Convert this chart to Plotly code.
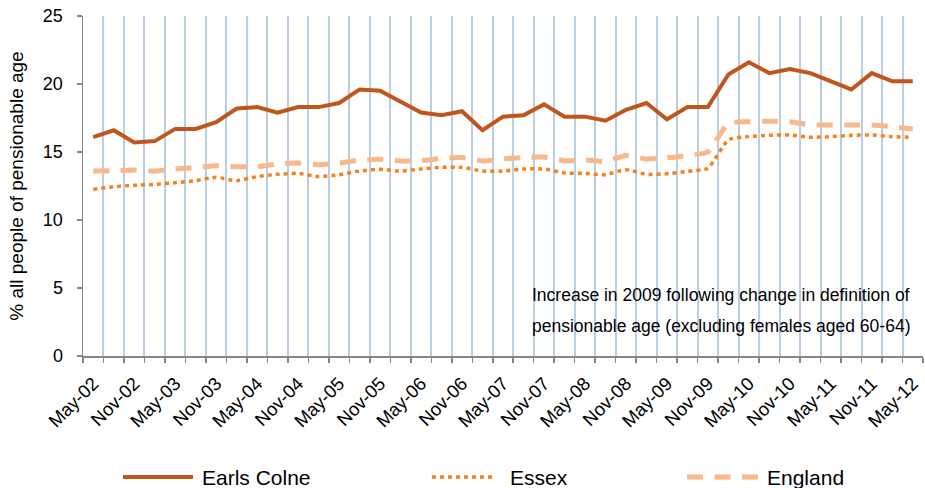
import plotly.graph_objects as go

categories = ["May-02", "Aug-02", "Nov-02", "Feb-03", "May-03", "Aug-03", "Nov-03", "Feb-04",
              "May-04", "Aug-04", "Nov-04", "Feb-05", "May-05", "Aug-05", "Nov-05", "Feb-06",
              "May-06", "Aug-06", "Nov-06", "Feb-07", "May-07", "Aug-07", "Nov-07", "Feb-08",
              "May-08", "Aug-08", "Nov-08", "Feb-09", "May-09", "Aug-09", "Nov-09", "Feb-10",
              "May-10", "Aug-10", "Nov-10", "Feb-11", "May-11", "Aug-11", "Nov-11", "Feb-12",
              "May-12"]

tick_labels = ["May-02", "Nov-02", "May-03", "Nov-03", "May-04", "Nov-04", "May-05", "Nov-05",
               "May-06", "Nov-06", "May-07", "Nov-07", "May-08", "Nov-08", "May-09", "Nov-09",
               "May-10", "Nov-10", "May-11", "Nov-11", "May-12"]

series_names = ["Earls Colne", "Essex", "England"]

earls_colne = [16.1, 16.6, 15.7, 15.8, 16.7, 16.7, 17.2, 18.2, 18.3, 17.9,
               18.3, 18.3, 18.6, 19.6, 19.5, 18.7, 17.9, 17.7, 18.0, 16.6,
               17.6, 17.7, 18.5, 17.6, 17.6, 17.3, 18.1, 18.6, 17.4, 18.3,
               18.3, 20.7, 21.6, 20.8, 21.1, 20.8, 20.2, 19.6, 20.8, 20.2, 20.2]

essex = [12.25, 12.45, 12.55, 12.62, 12.74, 12.89, 13.14, 12.89, 13.19, 13.36,
         13.43, 13.19, 13.33, 13.6, 13.73, 13.6, 13.75, 13.87, 13.87, 13.6,
         13.6, 13.75, 13.75, 13.46, 13.43, 13.33, 13.7, 13.36, 13.4, 13.58,
         13.8, 15.9, 16.13, 16.23, 16.25, 16.08, 16.13, 16.23, 16.25, 16.13, 16.08]

england = [13.6, 13.62, 13.68, 13.6, 13.75, 13.85, 13.99, 13.92, 13.92, 14.12,
           14.19, 14.07, 14.19, 14.41, 14.46, 14.34, 14.36, 14.53, 14.6, 14.34,
           14.49, 14.6, 14.63, 14.36, 14.41, 14.31, 14.75, 14.49, 14.57, 14.75,
           15.0, 17.11, 17.23, 17.26, 17.23, 17.0, 16.98, 16.98, 16.98, 16.86, 16.69]

note_lines = ["Increase in 2009 following change in definition of",
              "pensionable age (excluding females aged 60-64)"]

y_title = "% all people of pensionable age"

FONT = "Arial, Liberation Sans, sans-serif"
C_EC = "#C0561C"
C_ES = "#F58220"
C_EN = "#F9B88A"
AXIS_GREY = "#868686"
GRID_BLUE = "#B9CDE5"

styles = [
    dict(color=C_EC, width=4, dash="solid"),
    dict(color=C_ES, width=3.5, dash="4px,4px"),
    dict(color=C_EN, width=5, dash="16px,11.5px"),
]
shapes_line = ["linear", "spline", "spline"]

fig = go.Figure()
for name, vals, st, shp in zip(series_names, [earls_colne, essex, england], styles, shapes_line):
    fig.add_trace(go.Scatter(x=categories, y=vals, mode="lines", name=name,
                             line=dict(color=st["color"], width=st["width"], dash=st["dash"],
                                       shape=shp, smoothing=0.5),
                             showlegend=False))

ticktext = [c if c in tick_labels else "" for c in categories]

L, R, T, B = 83, 2, 16, 132
W, H = 925, 488
pw, ph = W - L - R, H - T - B

def px_x(x):
    return (x - L) / pw

def px_y(y):
    return (T + ph - y) / ph

fig.update_layout(
    width=W, height=H,
    margin=dict(l=L, r=R, t=T, b=B, autoexpand=False),
    paper_bgcolor="white", plot_bgcolor="white",
    font=dict(family=FONT, color="#000000"),
    xaxis=dict(type="category", range=[-0.5, len(categories) - 0.5],
               tickmode="array", tickvals=categories, ticktext=ticktext,
               tickson="boundaries", ticks="outside", ticklen=5, tickwidth=1.5,
               tickcolor=AXIS_GREY, tickangle=-45, ticklabelstandoff=8,
               tickfont=dict(size=18.5, family=FONT, color="#000000"),
               showgrid=True, gridcolor=GRID_BLUE, gridwidth=2,
               showline=True, linecolor=AXIS_GREY, linewidth=1.5,
               zeroline=False, fixedrange=True, automargin=False),
    yaxis=dict(range=[0, 25], tickmode="array", tickvals=[0, 5, 10, 15, 20, 25],
               ticks="outside", ticklen=5, tickwidth=1.5, tickcolor=AXIS_GREY,
               tickfont=dict(size=18, family=FONT, color="#000000"),
               ticklabelstandoff=10, automargin=False, fixedrange=True,
               showgrid=False, showline=True, linecolor=AXIS_GREY, linewidth=1.5,
               zeroline=False,
               title=dict(text=y_title, font=dict(size=19, family=FONT, color="#000000"),
                          standoff=14)),
)

# white box behind note, hiding the vertical lines
fig.add_shape(type="rect", xref="paper", yref="paper",
              x0=px_x(499), x1=1.01, y0=px_y(352), y1=px_y(267),
              fillcolor="white", line=dict(width=0), layer="below")

for i, (txt, yy) in enumerate(zip(note_lines, [295, 326])):
    fig.add_annotation(xref="paper", yref="paper", x=px_x(530), y=px_y(yy),
                       xanchor="left", yanchor="middle", text=txt, showarrow=False,
                       font=dict(size=17.5, family=FONT, color="#000000"))

# custom legend
leg_y = px_y(477)
leg_pos = [(123, 193, 200), (432, 493, 508), (687, 758, 765)]
for name, st, (x0, x1, xt) in zip(series_names, styles, leg_pos):
    fig.add_shape(type="line", xref="paper", yref="paper",
                  x0=px_x(x0), x1=px_x(x1), y0=leg_y, y1=leg_y,
                  line=dict(color=st["color"], width=st["width"], dash=st["dash"]))
    fig.add_annotation(xref="paper", yref="paper", x=px_x(xt), y=leg_y,
                       xanchor="left", yanchor="middle", text=name, showarrow=False,
                       font=dict(size=21, family=FONT, color="#000000"))

fig.write_html("out.html", config={"displayModeBar": False, "staticPlot": True},
               post_script="document.body.style.margin='0px';document.body.style.overflow='hidden';")
